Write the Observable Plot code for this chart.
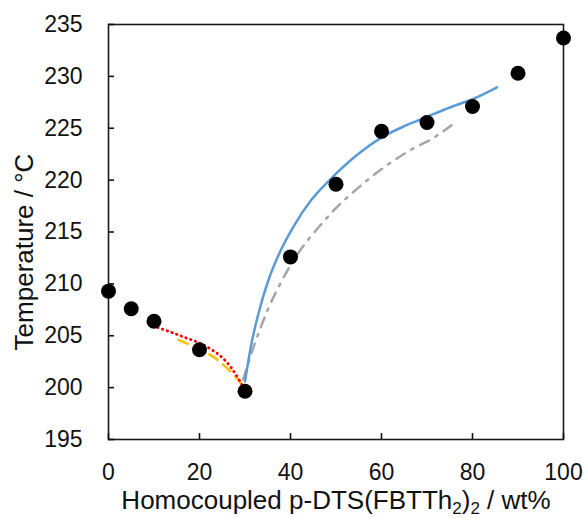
<!DOCTYPE html>
<html><head><meta charset="utf-8">
<script src="https://cdn.jsdelivr.net/npm/d3@7"></script>
<script src="https://cdn.jsdelivr.net/npm/@observablehq/plot@0.6"></script>
<style>html,body{margin:0;padding:0;background:#fff} svg{display:block}</style>
</head><body><div id="chart"></div>
<script>
// measured points
const wt = [0, 5, 10, 20, 30, 40, 50, 60, 70, 80, 90, 100];
const temp = [209.3, 207.6, 206.4, 203.65, 199.65, 212.6, 219.6, 224.7, 225.55, 227.1, 230.3, 233.7];

// fitted liquidus curves
const blueX = [30, 31.4, 33.3, 35.1, 37.6, 40.5, 44.6, 48.6, 54, 60, 65, 70, 75, 80, 85.4];
const blueY = [200.6, 204.2, 207.7, 210.3, 213.0, 215.4, 218.1, 220.0, 222.2, 224.1, 225.2, 226.1, 227.0, 227.8, 228.95];

const grayX = [29.6, 32.2, 35.1, 38.1, 40, 42.4, 45.3, 50, 55, 61.7, 66, 71.9, 75.4];
const grayY = [200.8, 204.3, 207.6, 210.3, 211.8, 213.4, 215.0, 217.3, 219.3, 221.6, 222.8, 224.2, 225.3];

const redX = [10.8, 14, 17, 20, 22.5, 25, 27, 28.5, 29.3];
const redY = [205.8, 205.3, 204.8, 204.3, 203.7, 202.9, 201.9, 200.9, 200.3];

const orangeX = [15.4, 18, 20, 23.4, 26, 28.2, 29.3];
const orangeY = [204.6, 204.1, 203.7, 202.85, 201.9, 200.9, 200.3];

const xTicks = [0, 20, 40, 60, 80, 100];
const yTicks = [195, 200, 205, 210, 215, 220, 225, 230, 235];
const xLabel = "Homocoupled p-DTS(FBTTh2)2 / wt%";
const yLabel = "Temperature / °C";

const pts = (xs, ys) => xs.map((x, i) => ({x, y: ys[i]}));

const chart = Plot.plot({
  width: 588,
  height: 518,
  marginLeft: 108,
  marginRight: 25,
  marginTop: 24,
  marginBottom: 79,
  x: {domain: [0, 100]},
  y: {domain: [195, 235]},
  style: {fontFamily: "'Liberation Sans', Arial, sans-serif", fontSize: "23px", color: "#111", background: "#fff", overflow: "visible"},
  marks: [
    Plot.frame({stroke: "#1a1a1a", strokeWidth: 1.6}),
    Plot.axisX(xTicks, {tickSize: -6, tickPadding: 30, strokeWidth: 1.6, label: null}),
    Plot.axisX({label: xLabel, labelAnchor: "center", labelOffset: 69, labelArrow: "none", ticks: [], fontSize: 26}),
    Plot.axisY(yTicks, {tickSize: -6, tickPadding: 32, strokeWidth: 1.6, label: null}),
    Plot.axisY({label: yLabel, labelAnchor: "center", labelOffset: 94, labelArrow: "none", ticks: [], fontSize: 26}),
    Plot.line(pts(grayX, grayY), {x: "x", y: "y", stroke: "#A5A5A5", strokeWidth: 2.5, strokeDasharray: "10,7.5,2.5,7.5", curve: "monotone-x"}),
    Plot.line(pts(blueX, blueY), {x: "x", y: "y", stroke: "#5B9BD5", strokeWidth: 2.5, curve: "monotone-x"}),
    Plot.line(pts(orangeX, orangeY), {x: "x", y: "y", stroke: "#FFC000", strokeWidth: 2.5, strokeDasharray: "10,7", curve: "monotone-x"}),
    Plot.line(pts(redX, redY), {x: "x", y: "y", stroke: "#FF0000", strokeWidth: 2.8, strokeDasharray: "0.5,4.5", strokeLinecap: "round", curve: "monotone-x"}),
    Plot.dot(pts(wt, temp), {x: "x", y: "y", r: 7.5, fill: "#000", stroke: "none"})
  ]
});
document.getElementById("chart").appendChild(chart);

// subscripts in x label
d3.select(chart).selectAll("text").filter(function() { return this.textContent === xLabel; }).each(function() {
  const t = d3.select(this);
  t.text(null);
  t.append("tspan").text("Homocoupled p-DTS(FBTTh");
  t.append("tspan").attr("dy", 5).attr("font-size", 17).text("2");
  t.append("tspan").attr("dy", -5).text(")");
  t.append("tspan").attr("dy", 5).attr("font-size", 17).text("2");
  t.append("tspan").attr("dy", -5).text(" / wt%");
});
// y label sits a little below the plot centre, as in the original
d3.select(chart).selectAll("text").filter(function() { return this.textContent === yLabel; }).attr("dx", -20);
</script>
</body></html>
